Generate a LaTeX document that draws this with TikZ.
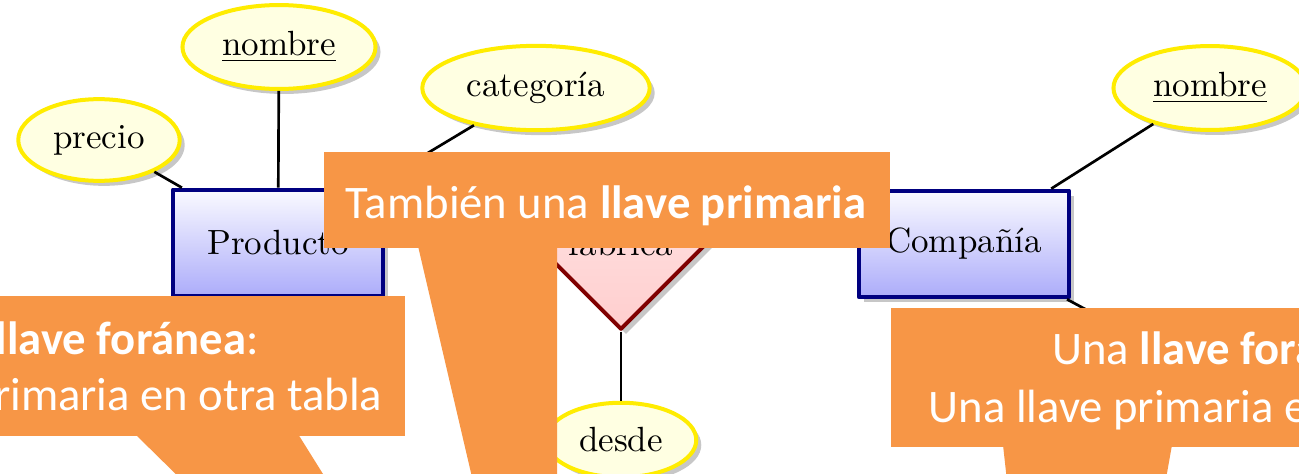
\documentclass[tikz,border=0pt]{standalone}
\usepackage{fontspec}
\newfontfamily\calloutfont{Carlito}
\usetikzlibrary{shapes.geometric,shadows}

\definecolor{attrline}{RGB}{255,236,0}
\definecolor{attrfill}{RGB}{255,255,226}
\definecolor{entline}{RGB}{0,0,128}
\definecolor{enttop}{RGB}{250,250,255}
\definecolor{entbot}{RGB}{172,172,250}
\definecolor{relline}{RGB}{128,0,0}
\definecolor{reltop}{RGB}{255,230,230}
\definecolor{relbot}{RGB}{255,206,206}
\definecolor{callout}{RGB}{247,150,70}

\tikzset{
  ershadow/.style={drop shadow={fill=black!22, opacity=1, shadow xshift=1.5pt, shadow yshift=-1.5pt}},
  attribute/.style={ellipse, draw=attrline, fill=attrfill, line width=1.2pt, inner xsep=3.4pt, inner ysep=4.2pt, ershadow},
  entity/.style={rectangle, draw=entline, line width=1.2pt, top color=enttop, bottom color=entbot,
    minimum width=63pt, minimum height=32pt, ershadow},
  relationship/.style={diamond, draw=relline, line width=1.2pt, top color=reltop, bottom color=relbot,
    minimum width=52pt, minimum height=52pt, inner sep=0pt, ershadow},
  link/.style={line width=0.8pt},
  callouttext/.style={text=white, inner sep=0pt, font=\calloutfont\fontsize{14}{17}\selectfont}
}

\begin{document}
\begin{tikzpicture}[x=0.3pt, y=-0.3pt, line join=round, font=\fontsize{10.5}{12.6}\selectfont]

  % ── 画布 ──
  \useasboundingbox (0,0) rectangle (1299,474);
  \clip (0,0) rectangle (1299,474);

  % ── 实体、联系、属性 ──
  \node[attribute] (precio)    at (99,140)  {precio};
  \node[attribute] (pnombre)   at (279,47)  {\underline{nombre}};
  \node[attribute] (categoria) at (536,88)  {categoría};
  \node[entity]    (producto)  at (278,243) {Producto};
  \node[relationship] (fabrica) at (621,243) {fabrica};
  \node[entity]    (compania)  at (964,244) {Compañía};
  \node[attribute] (cnombre)   at (1210,88) {\underline{nombre}};
  \node[attribute] (desde)     at (621,440) {desde};
  \coordinate (cattr) at (1180,360);   % 被标注框挡住的属性

  % ── 连线 ──
  \draw[link] (precio) -- (producto);
  \draw[link] (pnombre) -- (producto);
  \draw[link] (categoria) -- (producto);
  \draw[link] (producto) -- (fabrica);
  \draw[link] (fabrica) -- (compania);
  \draw[link] (cnombre) -- (compania);
  \draw[link] (compania) -- (cattr);
  \draw[link] (fabrica) -- (desde);

  % ── 标注框（矩形 + 尾巴）──
  \fill[callout] (324,152) rectangle (890,248);
  \fill[callout] (418,246) -- (557,246) -- (557,490) -- (475,490) -- cycle;
  \node[callouttext, anchor=base] (tambien) at (606,218) {También una \textbf{llave primaria}};

  \fill[callout] (-20,296) rectangle (405,436);
  \fill[callout] (135,434) -- (298,434) -- (333,490) -- (192,490) -- cycle;
  \node[callouttext, anchor=base east] (lfkey2) at (383,410) {Una llave primaria en otra tabla};
  \node[callouttext, anchor=base] (lfkey1) at ([yshift=16.8pt]lfkey2.base) {Una \textbf{llave foránea}:};

  \fill[callout] (891,308) rectangle (1320,447);
  \fill[callout] (1003,445) -- (1172,445) -- (1164,490) -- (1008,490) -- cycle;
  \node[callouttext, anchor=base west] (rfkey2) at (928,422) {Una llave primaria en otra tabla};
  \node[callouttext, anchor=base] (rfkey1) at ([yshift=17.4pt]rfkey2.base) {Una \textbf{llave foránea}:};
\end{tikzpicture}
\end{document}
